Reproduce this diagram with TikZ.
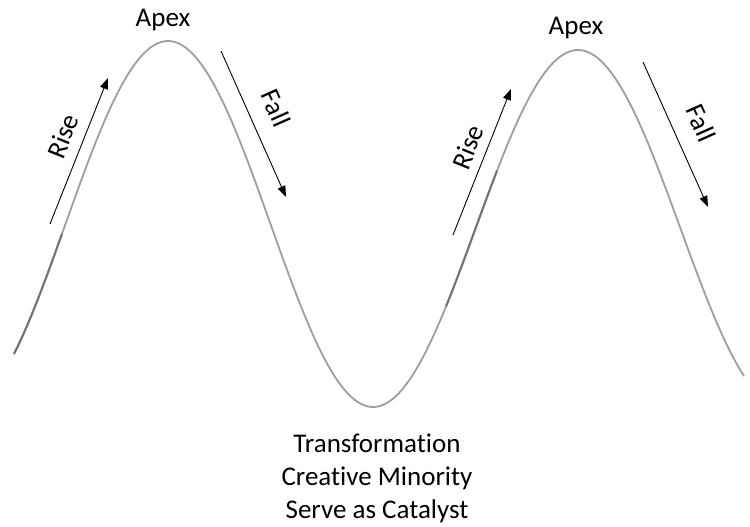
\documentclass[tikz,border=0pt]{standalone}
\usepackage{fontspec}
\setmainfont{Carlito}[Ligatures={NoCommon}]
\usetikzlibrary{arrows.meta}
\tikzset{
  wave/.style={draw=black!38, line width=1.8pt},
  wavedark/.style={draw=black!55, line width=2pt},
  flow/.style={draw=black, line width=0.9pt, -{Triangle[length=11pt,width=8pt]}},
  lbl/.style={inner sep=0pt, font=\fontsize{27}{33}\selectfont}
}
\begin{document}
\begin{tikzpicture}[x=1pt,y=-1pt]
\useasboundingbox (0,0) rectangle (750,527);
% wave
\draw[wave] plot[domain=14:373, samples=120, smooth] (\x, {224-183*cos(0.87805*(\x-168))});
\draw[wave] plot[domain=373:744, samples=120, smooth] (\x, {228.5-178.5*cos(0.87805*(\x-578))});
\draw[wavedark] plot[domain=14:62, samples=20, smooth] (\x, {224-183*cos(0.87805*(\x-168))});
\draw[wavedark] plot[domain=446:497, samples=20, smooth] (\x, {228.5-178.5*cos(0.87805*(\x-578))});
% arrows
\coordinate (r1s) at (50,224);
\coordinate (r1e) at (108,78);
\coordinate (f1s) at (221,51);
\coordinate (f1e) at (286,197);
\coordinate (r2s) at (453,235);
\coordinate (r2e) at (511,89);
\coordinate (f2s) at (643,62);
\coordinate (f2e) at (708,207);
\draw[flow] (r1s) -- (r1e);
\draw[flow] (f1s) -- (f1e);
\draw[flow] (r2s) -- (r2e);
\draw[flow] (f2s) -- (f2e);
% labels
\node[lbl, anchor=base] (apex1) at (163,27) {Apex};
\node[lbl, anchor=base] (apex2) at (576,35) {Apex};
\node[lbl, rotate=68] (rise1) at (63,136) {Rise};
\node[lbl, rotate=-66] (fall1) at (276,108) {Fall};
\node[lbl, rotate=68] (rise2) at (468,147) {Rise};
\node[lbl, rotate=-66] (fall2) at (701,123) {Fall};
\node[lbl, anchor=base] (t1) at (377,452) {Transformation};
\node[lbl, anchor=base] (t2) at (377,485) {Creative Minority};
\node[lbl, anchor=base] (t3) at (377,518) {Serve as Catalyst};
\end{tikzpicture}
\end{document}
